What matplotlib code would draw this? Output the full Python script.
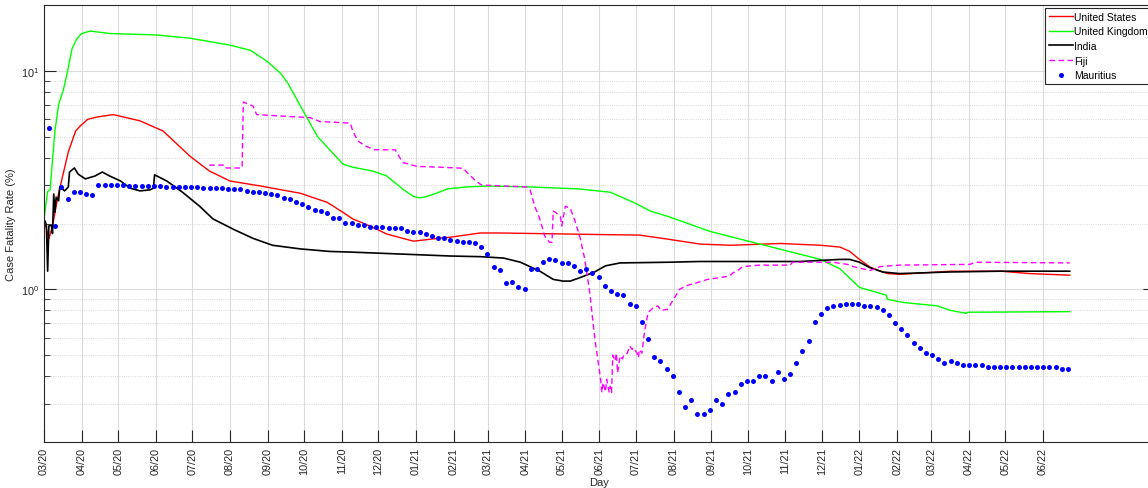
import matplotlib
matplotlib.use("Agg")
import matplotlib.pyplot as plt
import matplotlib.ticker as mticker
import numpy as np
import pandas as pd

plt.rcParams['font.family'] = ['Liberation Sans', 'DejaVu Sans']

# days counted from 2020-03-01
start = pd.Timestamp('2020-03-01')

us_days = [0, 4, 7, 11, 13, 20, 26, 30, 36, 44, 57, 79, 98, 120, 136, 153, 178, 211,
           233, 246, 254, 268, 282, 304, 320, 334, 359, 375, 458, 490, 512, 540, 565,
           606, 639, 655, 663, 671, 680, 694, 704, 746, 787, 811, 844]
us_cfr = [2.1, 1.7, 1.95, 2.58, 2.9, 4.25, 5.3, 5.6, 6.0, 6.15, 6.3, 5.9, 5.3, 4.07, 3.48,
          3.13, 2.97, 2.75, 2.5, 2.25, 2.1, 1.95, 1.79, 1.66, 1.7, 1.73, 1.81, 1.81, 1.78,
          1.77, 1.7, 1.61, 1.59, 1.62, 1.59, 1.56, 1.49, 1.37, 1.26, 1.18, 1.17, 1.21,
          1.21, 1.18, 1.16]

uk_days = [0, 3, 5, 7, 9, 12, 16, 19, 23, 27, 31, 38, 46, 55, 91, 120, 153, 170, 184,
           195, 201, 211, 225, 246, 254, 271, 282, 296, 304, 309, 314, 322, 332, 348,
           365, 400, 440, 466, 485, 499, 515, 548, 589, 639, 655, 671, 693, 694, 707,
           735, 746, 759, 760, 844]
uk_cfr = [2.1, 2.8, 2.85, 3.9, 5.3, 7.0, 8.2, 9.7, 12.6, 14.0, 14.8, 15.2, 15.0, 14.8,
          14.6, 14.1, 13.1, 12.4, 11.0, 9.7, 8.7, 6.9, 5.0, 3.74, 3.62, 3.47, 3.3, 2.85,
          2.66, 2.62, 2.65, 2.74, 2.88, 2.94, 2.97, 2.94, 2.88, 2.78, 2.5, 2.28, 2.14,
          1.84, 1.61, 1.37, 1.24, 1.02, 0.94, 0.9, 0.87, 0.84, 0.8, 0.776, 0.785, 0.79]

india_days = [0, 1, 2, 3, 4, 6, 7, 8, 9, 10, 12, 13, 17, 20, 21, 25, 28, 34, 42, 48, 54,
              63, 71, 79, 87, 90, 91, 101, 114, 128, 139, 156, 172, 188, 211, 235, 252,
              293, 334, 359, 378, 392, 408, 419, 427, 433, 441, 453, 462, 474, 515, 539,
              622, 655, 663, 671, 679, 690, 704, 745, 787, 844]
india_cfr = [2.0, 2.05, 1.95, 1.21, 1.95, 1.97, 1.8, 2.73, 2.25, 2.64, 2.54, 2.94, 2.82,
             2.94, 3.44, 3.59, 3.37, 3.2, 3.3, 3.44, 3.3, 3.13, 2.9, 2.82, 2.85, 2.9, 3.34,
             3.13, 2.78, 2.4, 2.1, 1.88, 1.71, 1.59, 1.53, 1.49, 1.48, 1.45, 1.42, 1.41,
             1.39, 1.33, 1.21, 1.11, 1.09, 1.09, 1.13, 1.2, 1.28, 1.32, 1.33, 1.34, 1.34,
             1.37, 1.37, 1.33, 1.26, 1.2, 1.18, 1.2, 1.21, 1.21]

fiji_days = [136, 149, 150, 163, 164, 169, 172, 175, 219, 227, 252, 254, 258, 264, 272,
             289, 295, 307, 326, 345, 348, 355, 360, 397, 400, 404, 408, 412, 416, 418,
             419, 421, 425, 426, 429, 433, 437, 441, 445, 449, 453, 458, 459, 460, 462,
             463, 465, 466, 467, 468, 470, 471, 472, 474, 476, 477, 480, 482, 484, 485,
             488, 489, 490, 492, 493, 494, 497, 501, 505, 508, 513, 517, 523, 529, 537,
             546, 556, 564, 567, 570, 575, 589, 614, 616, 649, 661, 666, 674, 680, 688,
             704, 762, 766, 844]
fiji_cfr = [3.7, 3.7, 3.59, 3.59, 7.2, 7.0, 6.9, 6.3, 6.1, 5.86, 5.76, 5.32, 4.79, 4.54,
            4.35, 4.35, 3.81, 3.65, 3.62, 3.58, 3.43, 3.14, 3.0, 2.94, 2.85, 2.38, 2.1,
            1.75, 1.64, 1.64, 2.28, 2.25, 2.14, 1.95, 2.4, 2.35, 2.05, 1.73, 1.37, 0.97,
            0.61, 0.387, 0.337, 0.374, 0.34, 0.387, 0.337, 0.36, 0.337, 0.5, 0.47, 0.51,
            0.415, 0.495, 0.48, 0.5, 0.51, 0.55, 0.53, 0.54, 0.51, 0.486, 0.53, 0.51,
            0.57, 0.63, 0.78, 0.82, 0.84, 0.8, 0.81, 0.88, 1.0, 1.04, 1.07, 1.11, 1.13,
            1.15, 1.19, 1.21, 1.27, 1.29, 1.29, 1.33, 1.33, 1.3, 1.27, 1.24, 1.22, 1.27,
            1.29, 1.3, 1.33, 1.32]

# Mauritius, one reading roughly every 5 days from 2020-03-05
mauritius_cfr = [5.5, 1.95, 2.93, 2.6, 2.78, 2.78, 2.73, 2.7, 3.0, 3.0, 3.0, 3.0, 3.0,
                 2.97, 2.97, 2.97, 2.97, 2.97, 2.97, 2.94, 2.94, 2.94, 2.94, 2.94, 2.94,
                 2.90, 2.90, 2.90, 2.90, 2.89, 2.89, 2.89, 2.83, 2.80, 2.80, 2.76, 2.73,
                 2.70, 2.61, 2.59, 2.52,
                 2.45, 2.39, 2.30, 2.29, 2.23, 2.13, 2.13, 2.02, 2.01, 1.97, 1.97, 1.93,
                 1.92, 1.92, 1.90, 1.90, 1.90, 1.85, 1.83, 1.82, 1.79, 1.76, 1.71, 1.71,
                 1.68, 1.67, 1.65, 1.65, 1.62, 1.56, 1.45, 1.27, 1.23, 1.07, 1.08, 1.02,
                 1.0,
                 1.24, 1.24, 1.33, 1.37, 1.36, 1.32, 1.32, 1.28, 1.21, 1.24, 1.19, 1.14,
                 1.04, 0.98, 0.95, 0.94, 0.86, 0.84, 0.71, 0.59, 0.49, 0.47, 0.43, 0.40,
                 0.34, 0.29, 0.31, 0.27, 0.27, 0.28, 0.31, 0.30, 0.33, 0.34, 0.37, 0.38,
                 0.38, 0.40, 0.40, 0.38, 0.42, 0.39, 0.41, 0.46, 0.52, 0.58, 0.71, 0.77,
                 0.82, 0.84, 0.85, 0.86,
                 0.86, 0.86, 0.84, 0.84, 0.83, 0.80, 0.76, 0.70, 0.66, 0.62, 0.57, 0.54,
                 0.51, 0.50, 0.48, 0.46, 0.47, 0.46, 0.45, 0.45, 0.45, 0.45, 0.44, 0.44,
                 0.44, 0.44, 0.44, 0.44, 0.44, 0.44, 0.44, 0.44, 0.44, 0.44, 0.43, 0.43]
mauritius_days = np.linspace(4.1, 842.6, len(mauritius_cfr))

months = pd.date_range('2020-03-01', '2022-06-01', freq='MS')
month_days = (months - start).days
month_labels = months.strftime('%m/%y')

fig = plt.figure(figsize=(11.48, 4.89), dpi=100)
ax = fig.add_axes([44 / 1148, 46 / 489, (1155 - 44) / 1148, 437 / 489])

ax.plot(us_days, us_cfr, color='#ff0000', lw=1.0, label='United States')
ax.plot(uk_days, uk_cfr, color='#00ff00', lw=1.0, label='United Kingdom')
ax.plot(india_days, india_cfr, color='black', lw=1.2, label='India')
ax.plot(fiji_days, fiji_cfr, color='#ff00ff', lw=1.0, ls=(0, (4, 2.5)), label='Fiji')
ax.plot(mauritius_days, mauritius_cfr, ls='none', marker='o', ms=3.6, mec='none',
        color='#0000ff', label='Mauritius')

ax.set_yscale('log')
ax.set_ylim(0.2, 20)
ax.set_xlim(0, (1155 - 44) / 1.2153)
ax.set_xticks(month_days)
ax.set_xticklabels(month_labels, rotation=90)
ax.yaxis.set_minor_formatter(mticker.NullFormatter())

dark = '#262626'
ax.tick_params(which='major', direction='in', length=8.5, width=0.8, colors=dark,
               labelsize=7.8, right=True)
ax.tick_params(which='minor', direction='in', length=4, width=0.6, colors=dark,
               right=True)
ax.tick_params(axis='x', which='minor', length=0)
for s in ax.spines.values():
    s.set_color(dark)
    s.set_linewidth(0.8)

ax.grid(True, which='major', color='#dcdcdc', lw=0.8, ls='-')
ax.grid(True, which='minor', axis='y', color='#cccccc', lw=0.6, ls=':')
ax.set_axisbelow(True)

ax.set_xlabel('Day', fontsize=8, color=dark, labelpad=2)
ax.set_ylabel('Case Fatality Rate (%)', fontsize=8, color=dark, labelpad=4)

leg = fig.legend(loc='upper left', bbox_to_anchor=(1045 / 1148, 1 - 9 / 489),
                 fontsize=7.5, frameon=True, fancybox=False, framealpha=1,
                 edgecolor=dark, borderpad=0.35, labelspacing=0.45,
                 handlelength=2.3, handletextpad=0.15, borderaxespad=0)
leg.get_frame().set_linewidth(0.8)

fig.savefig('out.png', dpi=100)
